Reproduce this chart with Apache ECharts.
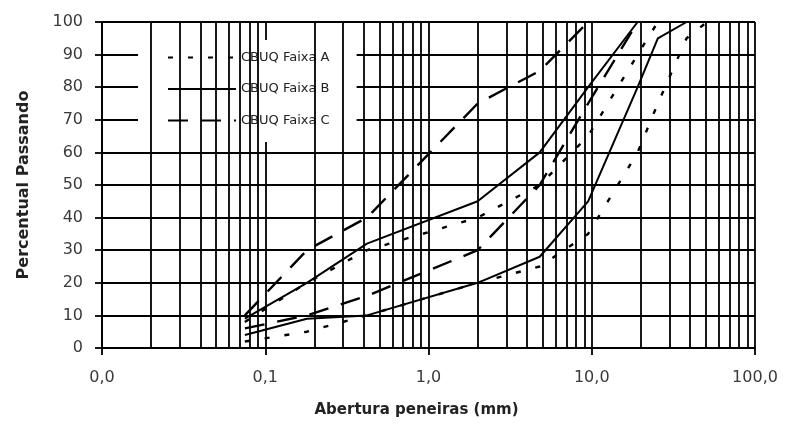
<!DOCTYPE html>
<html>
<head>
<meta charset="utf-8">
<script src="https://cdn.jsdelivr.net/npm/echarts@6/dist/echarts.min.js"></script>
<style>
  html, body { margin: 0; padding: 0; background: #fff; }
  #chart { width: 786px; height: 431px; }
</style>
</head>
<body>
<div id="chart"></div>
<script>
"use strict";

// aberturas das peneiras (mm)
const sieves = [0.075, 0.18, 0.42, 2.0, 4.8, 9.5, 19.1, 25.4, 38.1, 50.8];

// faixas granulométricas (% passando), null = sem ponto
const faixaAInf = [2, 5, 10, 20, 25, 35, 60, 75, 95, 100];
const faixaASup = [8, 20, 30, 40, 50, 65, 90, 100, null, null];
const faixaBInf = [4, 9, 10, 20, 28, 45, 80, 95, 100, null];
const faixaBSup = [9, 20, 32, 45, 60, 80, 100, null, null, null];
const faixaCInf = [6, 10, 16, 30, 50, 75, 100, null, null, null];
const faixaCSup = [10, 30, 40, 75, 85, 100, null, null, null, null];

const legendNames = ['CBUQ Faixa A', 'CBUQ Faixa B', 'CBUQ Faixa C'];
const xTickLabels = { 0.01: '0,0', 0.1: '0,1', 1: '1,0', 10: '10,0', 100: '100,0' };
const minorX = [
  0.02, 0.03, 0.04, 0.05, 0.06, 0.07, 0.08, 0.09,
  0.2, 0.3, 0.4, 0.5, 0.6, 0.7, 0.8, 0.9,
  2, 3, 4, 5, 6, 7, 8, 9,
  20, 30, 40, 50, 60, 70, 80, 90
];

function pairs(vals) {
  let out = [];
  vals.forEach((v, i) => { if (v !== null) out.push([sieves[i], v]); });
  return out;
}

const font = 'DejaVu Sans';
const gridLine = { color: '#000', width: 1.8 };
const styleA = { color: '#000', width: 2.4, type: [5, 15] };
const styleB = { color: '#000', width: 2 };
const styleC = { color: '#000', width: 2.4, type: [20, 13] };

function curve(name, vals, ls) {
  return {
    name: name,
    type: 'line',
    data: pairs(vals),
    symbol: 'none',
    z: 3,
    lineStyle: ls,
    itemStyle: { color: '#000' },
  };
}

let myChart = echarts.init(document.getElementById('chart'));

let option = {
  animation: false,
  backgroundColor: '#fff',
  grid: { left: 102, right: 31, top: 22, bottom: 83 },
  legend: {
    data: legendNames,
    orient: 'vertical',
    left: 138,
    top: 40,
    padding: [11, 27, 15, 29],
    itemWidth: 68,
    itemHeight: 14,
    itemGap: 18.5,
    backgroundColor: '#fff',
    itemStyle: { opacity: 0 },
    textStyle: { fontFamily: font, fontSize: 13, color: '#222' },
  },
  xAxis: {
    type: 'log',
    logBase: 10,
    min: 0.01,
    max: 100,
    splitNumber: 4,
    name: 'Abertura peneiras (mm)',
    nameLocation: 'middle',
    nameGap: 55,
    nameTextStyle: {
      fontFamily: font, fontSize: 15, fontWeight: 'bold', color: '#222',
      padding: [0, 24, 0, 0],
    },
    axisLine: { show: true, lineStyle: gridLine },
    axisTick: { show: true, length: 7, lineStyle: gridLine },
    axisLabel: {
      margin: 22,
      fontFamily: font,
      fontSize: 16,
      color: '#3a3a3a',
      formatter: function (v) { return xTickLabels[v] !== undefined ? xTickLabels[v] : ''; },
    },
    splitLine: { show: true, lineStyle: gridLine },
  },
  yAxis: {
    type: 'value',
    min: 0,
    max: 100,
    interval: 10,
    name: 'Percentual Passando',
    nameLocation: 'middle',
    nameRotate: 90,
    nameGap: 70,
    nameTextStyle: { fontFamily: font, fontSize: 16, fontWeight: 'bold', color: '#222' },
    axisLine: { show: true, lineStyle: gridLine },
    axisTick: { show: true, length: 7, lineStyle: gridLine },
    axisLabel: { margin: 19, fontFamily: font, fontSize: 16, color: '#3a3a3a' },
    splitLine: { show: true, lineStyle: gridLine },
  },
  series: [
    {
      name: 'grade',
      type: 'line',
      data: [],
      z: 1,
      silent: true,
      markLine: {
        silent: true,
        symbol: ['none', 'none'],
        label: { show: false },
        lineStyle: { color: '#000', width: 1.8, type: 'solid' },
        data: minorX.map(v => ({ xAxis: v })),
      },
    },
    curve(legendNames[0], faixaASup, styleA),
    curve(legendNames[0], faixaAInf, styleA),
    curve(legendNames[1], faixaBSup, styleB),
    curve(legendNames[1], faixaBInf, styleB),
    curve(legendNames[2], faixaCSup, styleC),
    curve(legendNames[2], faixaCInf, styleC),
  ],
};

myChart.setOption(option);
</script>
</body>
</html>
